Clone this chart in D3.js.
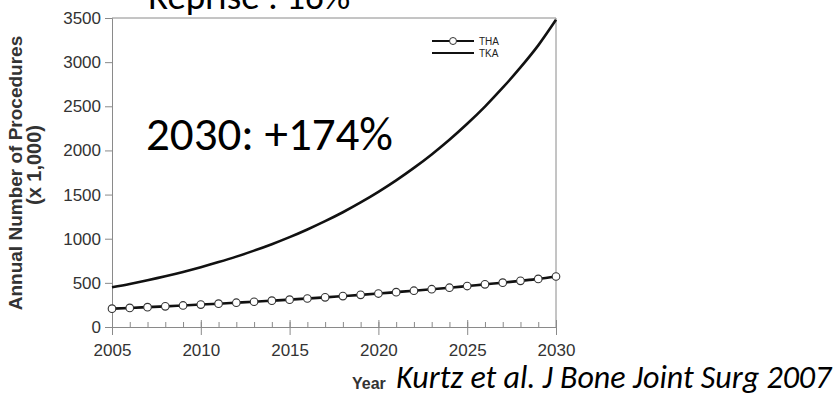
<!DOCTYPE html>
<html>
<head>
<meta charset="utf-8">
<script src="https://cdn.jsdelivr.net/npm/d3@7"></script>
<style>
  body { margin: 0; background: #fff; }
  svg { display: block; }
  .big { font-family: Carlito, Calibri, Lato, "Open Sans", sans-serif; fill: #000; }
  .ax { font-family: "Liberation Sans", Arial, sans-serif; }
</style>
</head>
<body>
<div id="chart"></div>
<script>
// data (thousands of procedures)
const years = [2005, 2006, 2007, 2008, 2009, 2010, 2011, 2012, 2013, 2014, 2015, 2016, 2017,
  2018, 2019, 2020, 2021, 2022, 2023, 2024, 2025, 2026, 2027, 2028, 2029, 2030];
const tha = [208, 216, 225, 234, 244, 254, 264, 275, 286, 298, 310, 323, 336,
  350, 364, 379, 395, 411, 428, 445, 464, 483, 502, 523, 545, 572];
const tka = [450, 488, 530, 575, 624, 677, 735, 797, 865, 938, 1018, 1105, 1199,
  1300, 1411, 1531, 1661, 1802, 1955, 2121, 2302, 2497, 2710, 2940, 3190, 3480];
const yTicks = [0, 500, 1000, 1500, 2000, 2500, 3000, 3500];
const xTicks = [2005, 2010, 2015, 2020, 2025, 2030];
const legendItems = ["THA", "TKA"];

const width = 836, height = 396;

const svg = d3.select("#chart")
  .append("svg")
  .attr("width", width)
  .attr("height", height);

const x = d3.scaleLinear()
  .domain([2005, 2030])
  .range([112, 556]);

const y = d3.scaleLinear()
  .domain([0, 3500])
  .range([327, 18]);

// overlay title, partially cut at the top
svg.append("text")
  .attr("class", "big")
  .attr("x", 148)
  .attr("y", 9)
  .style("font-size", "37px")
  .text("Reprise : 16%");

// frame (top + right)
svg.append("line")
  .attr("x1", x(2005)).attr("x2", x(2030))
  .attr("y1", y(3500)).attr("y2", y(3500))
  .attr("stroke", "#8a8a8a");
svg.append("line")
  .attr("x1", x(2030)).attr("x2", x(2030))
  .attr("y1", y(3500)).attr("y2", y(0))
  .attr("stroke", "#8a8a8a");

// Y axis
svg.append("g")
  .attr("class", "ax")
  .attr("transform", `translate(${x(2005)}, 0)`)
  .call(d3.axisLeft(y).tickValues(yTicks).tickSize(7).tickPadding(4).tickFormat(d3.format("d")));

// X axis, minor ticks every year pointing inside
svg.append("g")
  .attr("transform", `translate(0, ${y(0)})`)
  .call(d3.axisTop(x).tickValues(years).tickSize(5).tickFormat(""))
  .call(g => g.select(".domain").remove());

const xAxis = svg.append("g")
  .attr("class", "ax")
  .attr("transform", `translate(0, ${y(0)})`)
  .call(d3.axisBottom(x).tickValues(xTicks).tickSize(8).tickPadding(9).tickFormat(d3.format("d")));

xAxis.selectAll(".tick line").attr("y1", -7);

svg.selectAll(".domain, .tick line").attr("stroke", "#8a8a8a");
svg.selectAll(".ax .tick text")
  .style("font-size", "17px")
  .attr("fill", "#333");

// axis titles
svg.append("text")
  .attr("class", "ax")
  .attr("transform", "translate(22, 173) rotate(-90)")
  .attr("text-anchor", "middle")
  .style("font-size", "19px")
  .style("font-weight", "bold")
  .attr("fill", "#333")
  .text("Annual Number of Procedures");
svg.append("text")
  .attr("class", "ax")
  .attr("transform", "translate(41, 165) rotate(-90)")
  .attr("text-anchor", "middle")
  .style("font-size", "20px")
  .style("font-weight", "bold")
  .attr("fill", "#333")
  .text("(x 1,000)");

svg.append("text")
  .attr("class", "ax")
  .attr("x", 352)
  .attr("y", 389)
  .style("font-size", "16px")
  .style("font-weight", "bold")
  .attr("fill", "#333")
  .text("Year");

// lines
const line = d3.line()
  .x((d, i) => x(years[i]))
  .y(d => y(d))
  .curve(d3.curveMonotoneX);

svg.append("path")
  .datum(tka)
  .attr("d", line)
  .attr("fill", "none")
  .attr("stroke", "#111")
  .attr("stroke-width", 2.6);

svg.append("path")
  .datum(tha)
  .attr("d", line)
  .attr("fill", "none")
  .attr("stroke", "#111")
  .attr("stroke-width", 2.6);

svg.append("g")
  .selectAll("circle")
  .data(tha)
  .join("circle")
  .attr("cx", (d, i) => x(years[i]))
  .attr("cy", d => y(d))
  .attr("r", 3.8)
  .attr("fill", "#fff")
  .attr("stroke", "#333")
  .attr("stroke-width", 1.1);

// legend
const leg = svg.append("g")
  .selectAll("g")
  .data(legendItems)
  .join("g")
  .attr("transform", (d, i) => `translate(432, ${41 + i * 12})`);
leg.append("line")
  .attr("x1", 0).attr("x2", 42)
  .attr("stroke", "#111")
  .attr("stroke-width", 2);
leg.filter(d => d === "THA").append("circle")
  .attr("cx", 21).attr("r", 3.5)
  .attr("fill", "#fff")
  .attr("stroke", "#333");
leg.append("text")
  .attr("class", "ax")
  .attr("x", 47)
  .attr("dy", "0.35em")
  .style("font-size", "10px")
  .attr("fill", "#222")
  .text(d => d);

// overlay annotations
svg.append("text")
  .attr("class", "big")
  .attr("x", 146)
  .attr("y", 150)
  .style("font-size", "47px")
  .text("2030: +174%");

svg.append("text")
  .attr("class", "big")
  .attr("x", 396)
  .attr("y", 388)
  .style("font-size", "32px")
  .style("font-style", "italic")
  .text("Kurtz et al. J Bone Joint Surg 2007");
</script>
</body>
</html>
